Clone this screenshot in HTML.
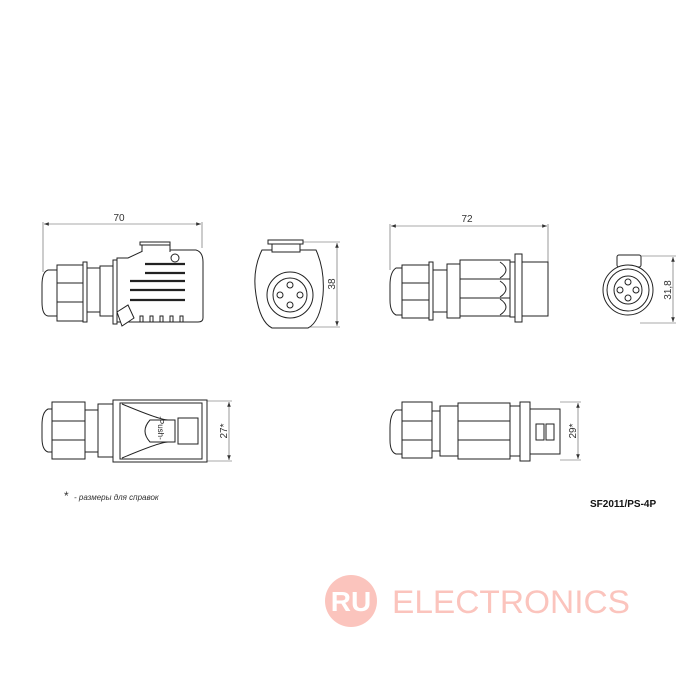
<!DOCTYPE html>
<html><head><meta charset="utf-8"><style>
html,body{margin:0;padding:0;background:#fff;width:700px;height:700px;overflow:hidden}
svg{display:block}
text{font-family:"Liberation Sans",sans-serif}
</style></head><body>
<svg width="700" height="700" viewBox="0 0 700 700" xmlns="http://www.w3.org/2000/svg">
<defs><marker id="a" markerWidth="8" markerHeight="6" refX="8" refY="3" orient="auto-start-reverse"><path d="M0,0 L8,3 L0,6" fill="#333"/></marker></defs>
<g stroke="#555" stroke-width="0.6" fill="none">
<!-- dims -->
<line x1="43" y1="222" x2="43" y2="272"/><line x1="202" y1="222" x2="202" y2="248"/>
<line x1="44" y1="224" x2="201" y2="224" marker-start="url(#a)" marker-end="url(#a)"/>
<line x1="390" y1="224" x2="390" y2="270"/><line x1="548" y1="224" x2="548" y2="262"/>
<line x1="391" y1="226" x2="547" y2="226" marker-start="url(#a)" marker-end="url(#a)"/>
<line x1="300" y1="242" x2="340" y2="242"/><line x1="300" y1="327" x2="340" y2="327"/>
<line x1="337" y1="243" x2="337" y2="326" marker-start="url(#a)" marker-end="url(#a)"/>
<line x1="640" y1="256" x2="676" y2="256"/><line x1="640" y1="323" x2="676" y2="323"/>
<line x1="673" y1="257" x2="673" y2="322" marker-start="url(#a)" marker-end="url(#a)"/>
<line x1="205" y1="401" x2="232" y2="401"/><line x1="205" y1="461" x2="232" y2="461"/>
<line x1="229" y1="402" x2="229" y2="460" marker-start="url(#a)" marker-end="url(#a)"/>
<line x1="560" y1="402" x2="581" y2="402"/><line x1="560" y1="460" x2="581" y2="460"/>
<line x1="578" y1="403" x2="578" y2="459" marker-start="url(#a)" marker-end="url(#a)"/>
</g>
<g stroke="#222" stroke-width="1" fill="#fff">
<!-- top-left side view -->
<path d="M58,270 L48,270 Q42,272 42,285 L42,302 Q42,315 48,316 L58,316 Z"/>
<rect x="57" y="265" width="28" height="56"/><line x1="57" y1="283" x2="85" y2="283"/><line x1="57" y1="302" x2="85" y2="302"/>
<rect x="83" y="262" width="4" height="60"/>
<rect x="87" y="268" width="13" height="44"/>
<rect x="100" y="266" width="14" height="50"/>
<rect x="113" y="260" width="4" height="64"/>
<path d="M117,258 L128,258 L145,250 L196,250 Q203,252 203,262 L203,318 Q203,322 198,322 L117,322 Z"/>
<path d="M142,252 L142,244 L170,244 L170,252"/><rect x="140" y="242" width="30" height="3"/>
<circle cx="175" cy="258" r="4"/>
<g stroke-width="2.2"><line x1="145" y1="264" x2="185" y2="264"/><line x1="145" y1="273" x2="185" y2="273"/><line x1="130" y1="281" x2="185" y2="281"/><line x1="130" y1="290" x2="185" y2="290"/><line x1="130" y1="300" x2="185" y2="300"/></g>
<path d="M117,312 L128,305 L134,318 L122,326 Z"/>
<g fill="none"><path d="M140,322 v-6 h3 v6 M150,322 v-6 h3 v6 M160,322 v-6 h3 v6 M170,322 v-6 h3 v6 M180,322 v-6 h3 v6"/></g>
<!-- front view left -->
<path d="M262,250 Q252,270 256,295 Q260,322 272,328 L308,328 Q320,322 323,295 Q325,270 316,250 Z"/>
<rect x="272" y="242" width="28" height="10"/><rect x="268" y="240" width="35" height="4"/>
<circle cx="290" cy="295" r="23"/><circle cx="290" cy="295" r="17"/>
<circle cx="290" cy="285" r="3"/><circle cx="290" cy="305" r="3"/><circle cx="280" cy="295" r="3"/><circle cx="300" cy="295" r="3"/>
<!-- top-right side view -->
<path d="M402,268 L396,268 Q390,272 390,285 L390,300 Q390,312 396,315 L402,315 Z"/>
<rect x="402" y="265" width="28" height="53"/><line x1="402" y1="283" x2="430" y2="283"/><line x1="402" y1="300" x2="430" y2="300"/>
<rect x="429" y="262" width="4" height="58"/>
<rect x="433" y="270" width="14" height="42"/>
<rect x="447" y="264" width="13" height="54"/>
<rect x="460" y="260" width="50" height="56"/><line x1="460" y1="279" x2="510" y2="279"/><line x1="460" y1="298" x2="510" y2="298"/>
<path d="M500,262 q12,8 0,16 M500,281 q12,8 0,16 M500,299 q12,8 0,16"/>
<rect x="510" y="262" width="5" height="55"/>
<rect x="515" y="254" width="7" height="68"/>
<rect x="522" y="262" width="26" height="54"/>
<!-- front view right -->
<rect x="617" y="255" width="24" height="12" rx="2"/>
<circle cx="628" cy="290" r="25"/><circle cx="628" cy="290" r="21"/><circle cx="628" cy="290" r="14"/>
<circle cx="628" cy="282" r="3"/><circle cx="628" cy="298" r="3"/><circle cx="620" cy="290" r="3"/><circle cx="636" cy="290" r="3"/>
<!-- bottom-left -->
<path d="M53,409 L48,409 Q42,412 42,425 L42,438 Q42,450 48,452 L53,452 Z"/>
<rect x="52" y="402" width="33" height="57"/><line x1="52" y1="421" x2="85" y2="421"/><line x1="52" y1="440" x2="85" y2="440"/>
<rect x="85" y="410" width="13" height="42"/>
<rect x="98" y="404" width="15" height="53"/>
<rect x="113" y="400" width="94" height="62"/>
<rect x="120" y="403" width="82" height="56"/>
<path d="M122,404 Q160,420 168,420 L168,442 Q160,442 122,458"/>
<path d="M150,420 Q140,431 150,442 L175,442 L175,420 Z"/>
<rect x="178" y="418" width="20" height="26"/>
<text x="155" y="431" font-size="8" fill="#222" stroke="none" transform="rotate(90 158 431)" text-anchor="middle">-Push-</text>
<!-- bottom-right -->
<path d="M402,410 L396,410 Q390,414 390,428 L390,440 Q390,452 396,454 L402,454 Z"/>
<rect x="402" y="402" width="30" height="56"/><line x1="402" y1="421" x2="432" y2="421"/><line x1="402" y1="440" x2="432" y2="440"/>
<rect x="432" y="411" width="8" height="40"/>
<rect x="440" y="406" width="18" height="50"/>
<rect x="458" y="403" width="52" height="56"/><line x1="458" y1="421" x2="510" y2="421"/><line x1="458" y1="440" x2="510" y2="440"/>
<rect x="510" y="406" width="10" height="50"/>
<rect x="520" y="402" width="10" height="59"/>
<rect x="530" y="409" width="30" height="45"/>
<rect x="536" y="424" width="8" height="16"/><rect x="546" y="424" width="8" height="16"/>
</g>
<g fill="#333" font-size="10">
<text x="119" y="221" text-anchor="middle">70</text>
<text x="467" y="222" text-anchor="middle">72</text>
<text transform="translate(335,284) rotate(-90)" text-anchor="middle">38</text>
<text transform="translate(671,290) rotate(-90)" text-anchor="middle">31,8</text>
<text transform="translate(227,431) rotate(-90)" text-anchor="middle">27*</text>
<text transform="translate(576,431) rotate(-90)" text-anchor="middle">29*</text>
<text x="64" y="500" font-size="12">*</text>
<text x="74" y="500" font-size="8" font-style="italic">- размеры для справок</text>
<text x="590" y="507" font-size="10" font-weight="bold" fill="#111">SF2011/PS-4P</text>
</g>
<circle cx="351" cy="601" r="26" fill="#fbc4bd"/>
<text x="351" y="611" font-size="28" fill="#fff" text-anchor="middle" font-family="Liberation Sans" font-weight="bold">RU</text>
<text x="392" y="613" font-size="32" fill="#fbc4bd" textLength="238" lengthAdjust="spacingAndGlyphs">ELECTRONICS</text>
</svg>
</body></html>
